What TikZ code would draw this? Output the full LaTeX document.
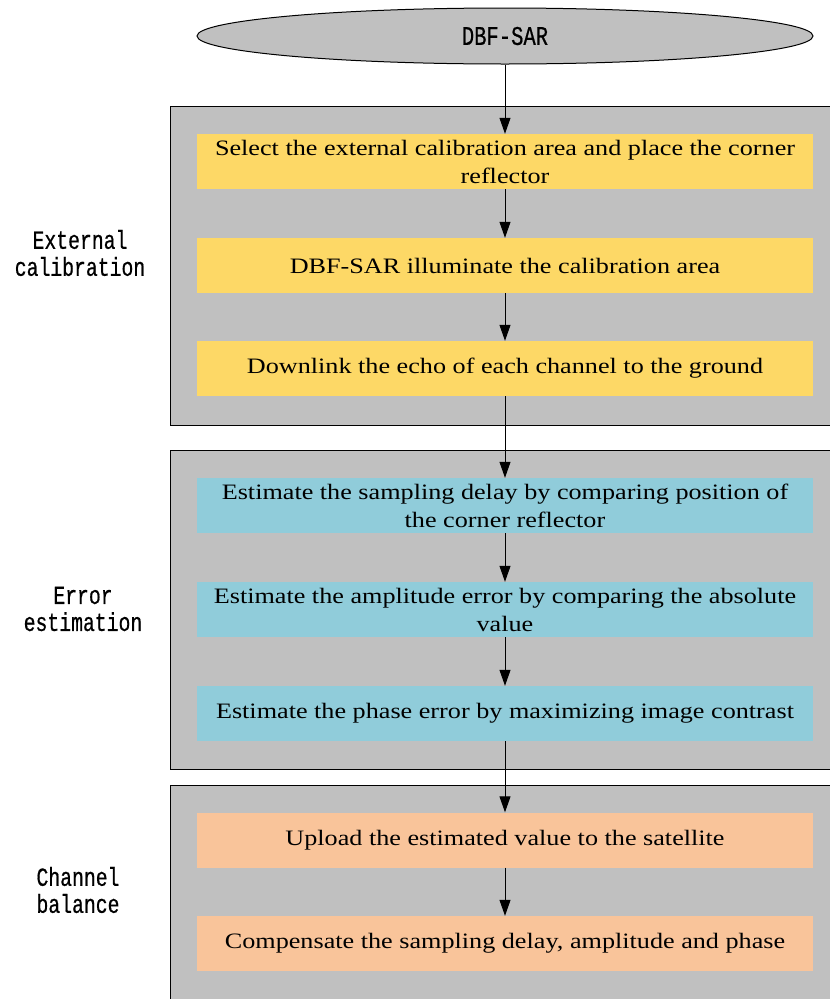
\documentclass[tikz,border=0pt]{standalone}
\usepackage{fontspec}
\setmainfont{Liberation Serif}
\newfontfamily\boxfont[FakeStretch=1.19]{Liberation Serif}
\newfontfamily\labfont[FakeStretch=0.76,FakeBold=0.6]{Liberation Mono}
\usetikzlibrary{shapes.geometric,arrows.meta}
\definecolor{clgray}{RGB}{192,192,192}
\definecolor{byellow}{RGB}{253,216,102}
\definecolor{bblue}{RGB}{144,204,218}
\definecolor{borange}{RGB}{249,196,154}
\tikzset{
  x=1pt,y=-1pt,
  cluster/.style={fill=clgray,draw=black,line width=1pt},
  stepbox/.style={minimum width=616pt,minimum height=55pt,inner sep=0pt,align=center,
    font=\boxfont\fontsize{22}{28}\selectfont},
  sidelabel/.style={align=center,font=\labfont\fontsize{26}{27}\selectfont},
  flow/.style={draw=black,line width=1pt,-{Triangle[length=16pt,width=11pt]}}
}
\begin{document}
\begin{tikzpicture}
\useasboundingbox (0,0) rectangle (830,999);
\path[clip] (0,0) rectangle (830,999);
% clusters
\draw[cluster] (170,106) rectangle (845,425);
\draw[cluster] (170,450) rectangle (845,769);
\draw[cluster] (170,785) rectangle (845,1010);
% top ellipse
\node[ellipse,draw=black,fill=clgray,line width=1pt,minimum width=616pt,minimum height=56pt,inner sep=0pt,
  font=\labfont\fontsize{27}{22}\selectfont] (top) at (505,36) {DBF-SAR};
% boxes
\node[stepbox,fill=byellow] (b1) at (505,161.5) {Select the external calibration area and place the corner\\reflector};
\node[stepbox,fill=byellow] (b2) at (505,265.5) {DBF-SAR illuminate the calibration area};
\node[stepbox,fill=byellow] (b3) at (505,368.5) {Downlink the echo of each channel to the ground};
\node[stepbox,fill=bblue] (b4) at (505,505.5) {Estimate the sampling delay by comparing position of\\the corner reflector};
\node[stepbox,fill=bblue] (b5) at (505,609.5) {Estimate the amplitude error by comparing the absolute\\value};
\node[stepbox,fill=bblue] (b6) at (505,713.5) {Estimate the phase error by maximizing image contrast};
\node[stepbox,fill=borange] (b7) at (505,840) {Upload the estimated value to the satellite};
\node[stepbox,fill=borange] (b8) at (505,943.5) {Compensate the sampling delay, amplitude and phase};
% side labels
\node[sidelabel] (l1) at (80,253) {External\\calibration};
\node[sidelabel] (l2) at (83,609) {Error\\estimation};
\node[sidelabel] (l3) at (78,890) {Channel\\balance};
% arrows
\draw[flow] (top) -- (b1);
\draw[flow] (b1) -- (b2);
\draw[flow] (b2) -- (b3);
\draw[flow] (b3) -- (b4);
\draw[flow] (b4) -- (b5);
\draw[flow] (b5) -- (b6);
\draw[flow] (b6) -- (b7);
\draw[flow] (b7) -- (b8);
\end{tikzpicture}
\end{document}
